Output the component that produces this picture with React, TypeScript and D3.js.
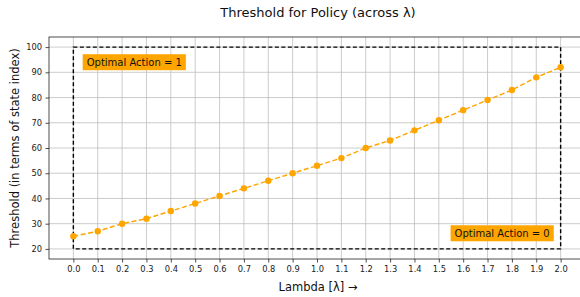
import React, { useEffect, useRef } from 'react';
import * as d3 from 'd3';

// data
const lambdas = [0.0, 0.1, 0.2, 0.3, 0.4, 0.5, 0.6, 0.7, 0.8, 0.9, 1.0, 1.1, 1.2, 1.3, 1.4, 1.5, 1.6, 1.7, 1.8, 1.9, 2.0];
const thresholds = [25, 27, 30, 32, 35, 38, 41, 44, 47, 50, 53, 56, 60, 63, 67, 71, 75, 79, 83, 88, 92];
const xTicks = d3.range(0, 21).map((i) => i / 10);
const yTicks = [20, 30, 40, 50, 60, 70, 80, 90, 100];
const regionBox = { x0: 0, x1: 2, y0: 20, y1: 100 };
const notes = [
  { text: 'Optimal Action = 1', x: 0.25, y: 94 },
  { text: 'Optimal Action = 0', x: 1.76, y: 26.2 },
];

const width = 580;
const height = 297;
const margin = { left: 49, right: -5, top: 37, bottom: 38 };
const font = 'DejaVu Sans, sans-serif';

export default function App() {
  const ref = useRef<SVGSVGElement>(null);

  useEffect(() => {
    const svg = d3.select(ref.current);
    svg.selectAll('*').remove();

    const x = d3.scaleLinear().domain([-0.1, 2.1]).range([margin.left, width - margin.right]);
    const y = d3.scaleLinear().domain([16, 104]).range([height - margin.bottom, margin.top]);

    svg.append('rect').attr('width', width).attr('height', height).attr('fill', '#fff');

    // grid
    const grid = svg.append('g').attr('stroke', '#b0b0b0').attr('stroke-width', 0.8).attr('opacity', 0.8);
    xTicks.forEach((t) => {
      grid.append('line').attr('x1', x(t)).attr('x2', x(t)).attr('y1', y(16)).attr('y2', y(104));
    });
    yTicks.forEach((t) => {
      grid.append('line').attr('x1', x(-0.1)).attr('x2', x(2.1)).attr('y1', y(t)).attr('y2', y(t));
    });

    // axes
    const xAxis = d3.axisBottom(x).tickValues(xTicks).tickFormat(d3.format('.1f')).tickSize(3.5).tickPadding(3.5);
    const yAxis = d3.axisLeft(y).tickValues(yTicks).tickSize(3.5).tickPadding(3.5);
    const gx = svg.append('g').attr('transform', `translate(0,${height - margin.bottom})`).call(xAxis);
    const gy = svg.append('g').attr('transform', `translate(${margin.left},0)`).call(yAxis);
    [gx, gy].forEach((g) => {
      g.select('.domain').remove();
      g.selectAll('text').attr('font-family', font).attr('font-size', 8.3).attr('fill', '#222');
      g.selectAll('line').attr('stroke', '#222').attr('stroke-width', 0.8);
    });

    // spines
    svg.append('rect')
      .attr('x', x(-0.1)).attr('y', y(104))
      .attr('width', x(2.1) - x(-0.1)).attr('height', y(16) - y(104))
      .attr('fill', 'none').attr('stroke', '#222').attr('stroke-width', 0.8);

    // dashed region box
    svg.append('rect')
      .attr('x', x(regionBox.x0)).attr('y', y(regionBox.y1))
      .attr('width', x(regionBox.x1) - x(regionBox.x0)).attr('height', y(regionBox.y0) - y(regionBox.y1))
      .attr('fill', 'none').attr('stroke', '#000').attr('stroke-width', 1.4).attr('stroke-dasharray', '4,2.5');

    // threshold line
    const line = d3.line<number>().x((_, i) => x(lambdas[i])).y((d) => y(d));
    svg.append('path')
      .datum(thresholds)
      .attr('d', line)
      .attr('fill', 'none').attr('stroke', '#FFA500').attr('stroke-width', 1.4).attr('stroke-dasharray', '5,2.5');
    svg.append('g').selectAll('circle').data(thresholds).enter().append('circle')
      .attr('cx', (_, i) => x(lambdas[i])).attr('cy', (d) => y(d)).attr('r', 3.2).attr('fill', '#FFA500');

    // annotation boxes
    notes.forEach((n) => {
      const g = svg.append('g');
      const t = g.append('text')
        .attr('x', x(n.x)).attr('y', y(n.y))
        .attr('text-anchor', 'middle').attr('dominant-baseline', 'central')
        .attr('font-family', font).attr('font-size', 10).attr('fill', '#111').text(n.text);
      const bb = (t.node() as SVGTextElement).getBBox();
      g.insert('rect', 'text')
        .attr('x', bb.x - 4).attr('y', bb.y - 2.5).attr('width', bb.width + 8).attr('height', bb.height + 5)
        .attr('fill', '#FFA500');
    });

    // labels
    svg.append('text').attr('x', 318).attr('y', 17).attr('text-anchor', 'middle')
      .attr('font-family', font).attr('font-size', 13).attr('fill', '#111').text('Threshold for Policy (across λ)');
    svg.append('text').attr('x', 318).attr('y', 291).attr('text-anchor', 'middle')
      .attr('font-family', font).attr('font-size', 11.5).attr('fill', '#111').text('Lambda [λ] →');
    svg.append('text').attr('transform', `translate(19,${y(60)}) rotate(-90)`).attr('text-anchor', 'middle')
      .attr('font-family', font).attr('font-size', 11.5).attr('fill', '#111').text('Threshold (in terms of state index)');
  }, []);

  return <svg ref={ref} width={width} height={height} style={{ display: 'block', position: 'absolute', left: 0, top: 0 }} />;
}
